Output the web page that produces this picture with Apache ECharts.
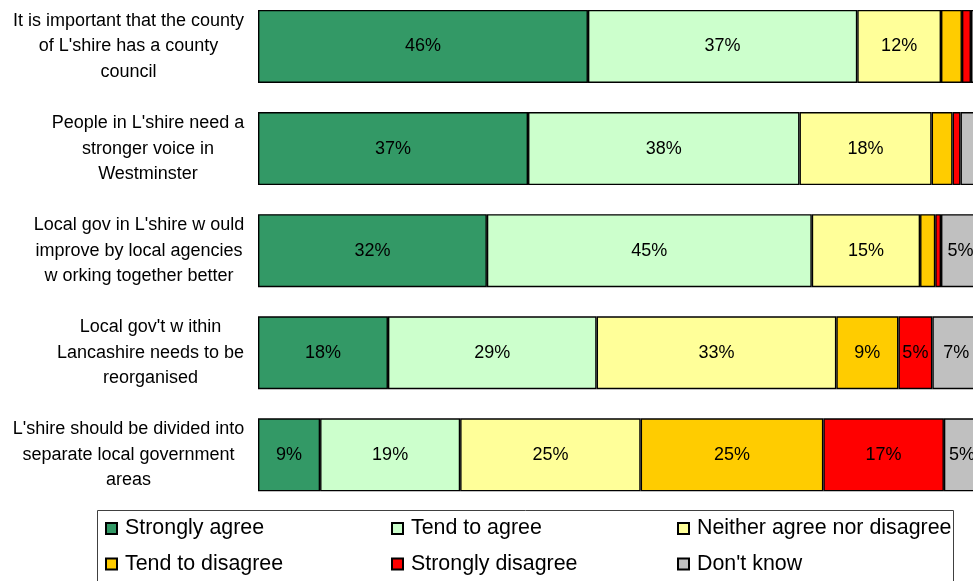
<!DOCTYPE html>
<html>
<head>
<meta charset="utf-8">
<script src="https://cdn.jsdelivr.net/npm/echarts@6/dist/echarts.min.js"></script>
<style>
html,body{margin:0;padding:0;background:#fff;overflow:hidden;width:973px;height:581px;}
#chart{position:absolute;left:0;top:-10px;width:990px;height:600px;}
</style>
</head>
<body>
<div id="chart"></div>
<script>
// Categories (top to bottom)
var categories = [
  "It is important that the county\nof L'shire has a county\ncouncil",
  "People in L'shire need a\nstronger voice in\nWestminster",
  "Local gov in L'shire w ould\nimprove by local agencies\nw orking together better",
  "Local gov't w ithin\nLancashire needs to be\nreorganised",
  "L'shire should be divided into\nseparate local government\nareas"
];
var seriesNames = ["Strongly agree", "Tend to agree", "Neither agree nor disagree", "Tend to disagree", "Strongly disagree", "Don't know"];
var stronglyAgree = [45.7, 37.4, 31.7, 18.0, 8.6];
var tendToAgree   = [37.3, 37.6, 45.0, 28.9, 19.4];
var neither       = [11.6, 18.3, 15.0, 33.2, 25.0];
var tendDisagree  = [2.9, 2.9, 2.1, 8.6, 25.3];
var stronglyDis   = [1.25, 1.1, 0.8, 4.7, 16.7];
var dontKnow      = [1.25, 2.7, 5.4, 6.6, 5.0];

var values = [stronglyAgree, tendToAgree, neither, tendDisagree, stronglyDis, dontKnow];
var colors = ["#339966", "#CCFFCC", "#FFFF99", "#FFCC00", "#FF0000", "#C0C0C0"];

var FONT = "'Liberation Sans', Arial, sans-serif";

// measure widest line for each category label so lines are centred in a right-aligned block
var cv = document.createElement('canvas').getContext('2d');
cv.font = "18px " + FONT;
var rich = {};
categories.forEach(function (c, i) {
  var w = 0;
  c.split('\n').forEach(function (l) { w = Math.max(w, cv.measureText(l).width); });
  rich['c' + i] = { width: Math.ceil(w) + 1, align: 'center', fontSize: 18, lineHeight: 25.5, fontFamily: FONT, color: '#000' };
});

var series = seriesNames.map(function (name, si) {
  return {
    name: name,
    type: 'bar',
    stack: 'total',
    barWidth: 73,
    data: values[si],
    itemStyle: { color: colors[si], borderColor: '#000', borderWidth: 1.4 },
    label: {
      show: true,
      position: 'inside',
      fontSize: 18,
      fontFamily: FONT,
      color: '#000',
      formatter: function (p) { return p.value >= 4 ? Math.round(p.value) + '%' : ''; }
    },
    emphasis: { disabled: true }
  };
});

function legendCol(left, names) {
  return {
    orient: 'vertical',
    left: left,
    top: 528,
    padding: 0,
    icon: 'rect',
    itemWidth: 11,
    itemHeight: 11,
    itemGap: 14.5,
    selectedMode: false,
    data: names,
    textStyle: { fontSize: 21.4, fontFamily: FONT, color: '#000', lineHeight: 20, padding: [0, 0, 0, 3] }
  };
}

var chart = echarts.init(document.getElementById('chart'), null, { renderer: 'canvas' });
chart.setOption({
  backgroundColor: '#fff',
  animation: false,
  grid: { left: 258, top: 5.4, width: 722, height: 510.5, containLabel: false },
  xAxis: { type: 'value', min: 0, max: 100, show: false },
  yAxis: {
    type: 'category',
    inverse: true,
    data: categories,
    axisLine: { show: false },
    axisTick: { show: false },
    axisLabel: {
      margin: 13,
      align: 'right',
      formatter: function (v, i) {
        return v.split('\n').map(function (l) { return '{c' + i + '|' + l + '}'; }).join('\n');
      },
      rich: rich
    }
  },
  legend: [
    legendCol(105, ["Strongly agree", "Tend to disagree"]),
    legendCol(391, ["Tend to agree", "Strongly disagree"]),
    legendCol(677, ["Neither agree nor disagree", "Don't know"])
  ],
  graphic: [
    { type: 'rect', shape: { x: 97.5, y: 520.5, width: 856, height: 100 }, style: { fill: 'none', stroke: '#404040', lineWidth: 1 }, silent: true }
  ],
  series: series
});
</script>
</body>
</html>
